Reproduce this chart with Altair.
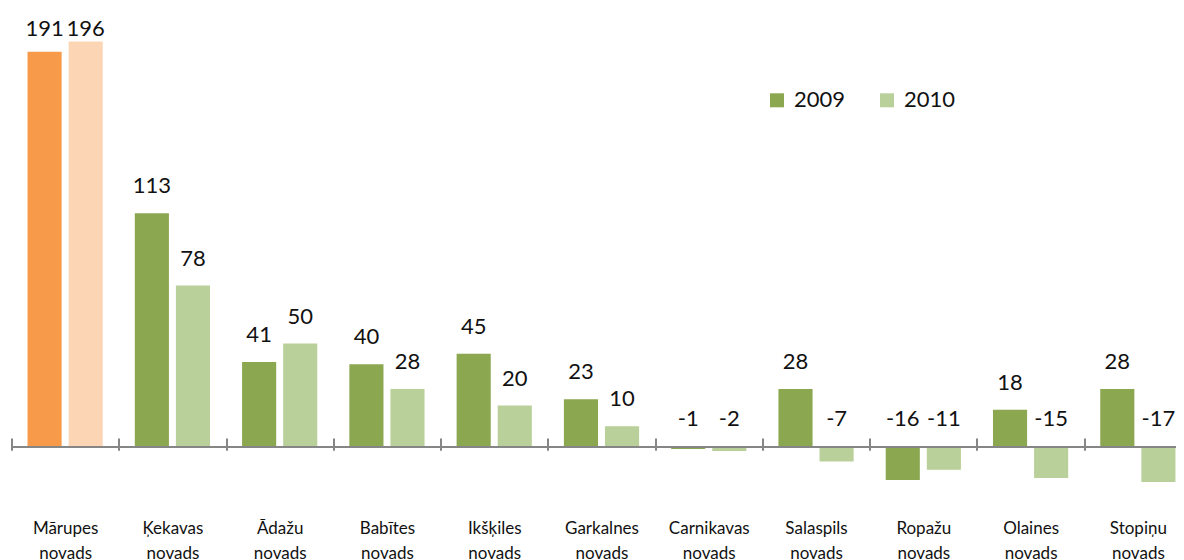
import altair as alt
import pandas as pd

categories = ["Mārupes novads", "Ķekavas novads", "Ādažu novads", "Babītes novads",
              "Ikšķiles novads", "Garkalnes novads", "Carnikavas novads",
              "Salaspils novads", "Ropažu novads", "Olaines novads", "Stopiņu novads"]
years = ["2009", "2010"]
v2009 = [191, 113, 41, 40, 45, 23, -1, 28, -16, 18, 28]
v2010 = [196, 78, 50, 28, 20, 10, -2, -7, -11, -15, -17]
highlight = "Mārupes novads"

rows = []
for c, a, b in zip(categories, v2009, v2010):
    for y, v in zip(years, [a, b]):
        rows.append({"category": c, "year": y, "value": v, "label": str(v),
                     "ckey": ("H" + y) if c == highlight else y})
df = pd.DataFrame(rows)

color_scale = alt.Scale(domain=["2009", "2010", "H2009", "H2010"],
                        range=["#8BA74F", "#BAD09A", "#F79A4A", "#FCD5B4"])
yscale = alt.Scale(domain=[-30, 202], clamp=True)
xscale = alt.Scale(range=[0, 1180], paddingInner=0, paddingOuter=0)
xoff = alt.XOffset("year:N", scale=alt.Scale(paddingInner=0.17, paddingOuter=0.39))

x_enc = alt.X("category:N", sort=categories, scale=xscale,
              axis=alt.Axis(title=None, orient="bottom", offset=-71, domain=False,
                            ticks=True, tickBand="extent", tickSize=12.3,
                            tickColor="#868686", tickWidth=2, grid=False,
                            labelFont="Lato", labelFontSize=17, labelColor="#111111",
                            labelExpr="split(datum.label, ' ')", labelLineHeight=25,
                            labelBaseline="alphabetic", labelPadding=82.7, labelAngle=0))

base = alt.Chart(df)

bars = base.mark_bar().encode(
    x=x_enc,
    xOffset=xoff,
    y=alt.Y("value:Q", scale=yscale, axis=None),
    color=alt.Color("ckey:N", scale=color_scale,
                    legend=alt.Legend(values=["2009", "2010"], title=None, orient="none",
                                      legendX=754.5, legendY=60.3, direction="horizontal",
                                      symbolType="square", symbolSize=196,
                                      symbolStrokeWidth=0, labelFont="Lato",
                                      labelFontSize=22, labelColor="#111111",
                                      labelOffset=6, columnPadding=30, padding=0)),
)

zero = alt.Chart(pd.DataFrame({"z": [0]})).mark_rule(color="#868686", strokeWidth=2).encode(
    y=alt.Y("z:Q", scale=yscale, axis=None), x=alt.value(0), x2=alt.value(1180))

labels = base.transform_calculate(
    labelY="datum.value >= 0 ? datum.value + 13 : 13.5"
).mark_text(font="Lato", fontSize=22, color="#111111", baseline="middle", align="center").encode(
    x=alt.X("category:N", sort=categories, scale=xscale),
    xOffset=xoff,
    y=alt.Y("labelY:Q", scale=yscale, axis=None),
    text="label:N",
)

chart = alt.layer(bars, zero, labels).properties(
    width=1164.5, height=480,
    autosize=alt.AutoSizeParams(type="none"),
    padding={"left": 3.5, "top": 21, "right": 0, "bottom": 51},
).configure(font="Lato").configure_view(stroke=None)

chart.save("out.html", embed_options={"renderer": "svg", "actions": False})
